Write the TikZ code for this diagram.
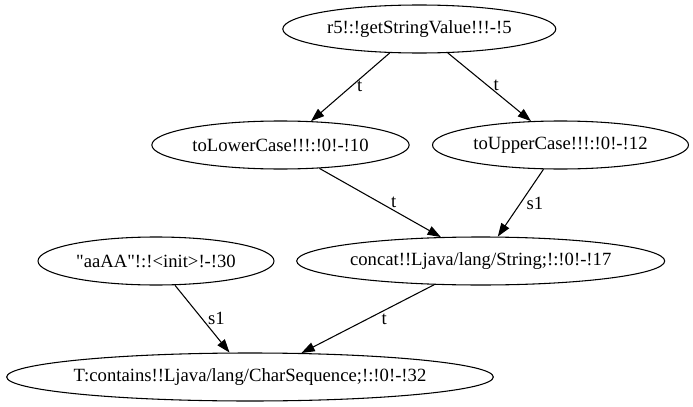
\documentclass[tikz,border=0pt]{standalone}
\usepackage{fontspec}
\setmainfont{Liberation Serif}
\usetikzlibrary{arrows.meta, shapes.geometric}
\tikzset{
  call/.style={
    ellipse,
    draw,
    line width=0.8pt,
    inner xsep=-30pt,
    inner ysep=0pt,
    minimum height=36pt,
    font=\fontsize{14}{16}\selectfont
  },
  arrow/.style={-{Triangle[length=10pt, width=7pt]}, line width=0.8pt},
  tag/.style={font=\fontsize{14}{16}\selectfont, inner sep=4pt}
}

\begin{document}
\begin{tikzpicture}[x=0.75pt, y=-0.75pt]
  \useasboundingbox (0,0) rectangle (693,407);

  \node[call, minimum width=204.75pt] (r5) at (419.3,29) {r5!:!getStringValue!!!-!5};

  \node[call, minimum width=193pt] (lower) at (280.5,145) {toLowerCase!!!:!0!-!10};
  \node[call, minimum width=192pt] (upper) at (560.5,145) {toUpperCase!!!:!0!-!12};

  \node[call, minimum width=177pt] (aaaa) at (156,261) {\textquotedbl aaAA\textquotedbl !:!<init>!-!30};
  \node[call, minimum width=276pt] (concat) at (480.7,261) {concat!!Ljava/lang/String;!:!0!-!17};

  \node[call, minimum width=365pt] (contains) at (250,377) {T:contains!!Ljava/lang/CharSequence;!:!0!-!32};

  \draw[arrow] (r5.219.7) -- node[pos=.49, right, tag]{t} (lower.38.7);
  \draw[arrow] (r5.320) -- node[pos=.48, right, tag]{t} (upper.141.7);
  \draw[arrow] (lower.329.5) -- node[pos=.5, right, tag, xshift=3.75pt]{t} (concat.149.4);
  \draw[arrow] (upper.235.8) -- node[pos=.5, right, tag]{s1} (concat.55);
  \draw[arrow] (aaaa.308.7) -- node[pos=.5, right, tag]{s1} (contains.130);
  \draw[arrow] (concat.207.6) -- node[pos=.507, right, tag, xshift=6.75pt]{t} (contains.25.9);
\end{tikzpicture}
\end{document}
